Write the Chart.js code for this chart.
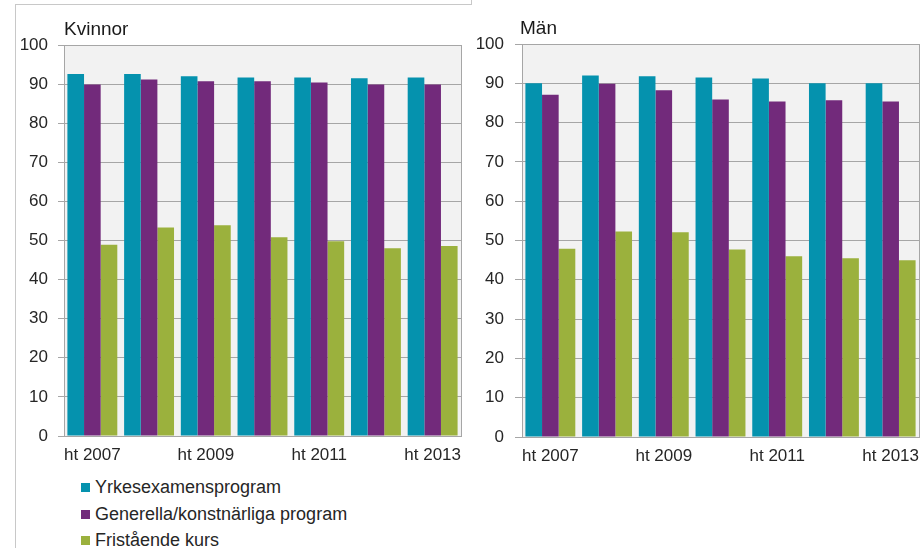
<!DOCTYPE html>
<html lang="sv">
<head>
<meta charset="utf-8">
<script src="https://cdn.jsdelivr.net/npm/chart.js@4.4.1/dist/chart.umd.min.js"></script>
<style>
    body { margin: 0; background: #fff; font-family: "Liberation Sans", Arial, sans-serif; color: #262626; }
    #wrap { position: relative; width: 924px; height: 548px; overflow: hidden; }
    canvas { position: absolute; top: 0; }
    .ram { position: absolute; background: #c8c8c8; }
    .rubrik { position: absolute; font-size: 19px; color: #1a1a1a; }
    #legend { position: absolute; left: 81px; top: 476px; font-size: 18px; color: #262626; }
    #legend div { height: 26.5px; line-height: 22px; white-space: nowrap; }
    #legend span { display: inline-block; width: 9px; height: 9px; margin-right: 5px; vertical-align: 1px; }
</style>
</head>
<body>
<div id="wrap">
    <div class="ram" style="left:15px; top:4px; width:457px; height:1px;"></div>
    <div class="ram" style="left:471px; top:0; width:1px; height:5px;"></div>
    <div class="ram" style="left:15px; top:4px; width:1px; height:544px;"></div>
    <canvas id="chart-kvinnor" width="470" height="470" style="left:0"></canvas>
    <canvas id="chart-man" width="454" height="470" style="left:470px"></canvas>
    <div class="rubrik" style="left:64px; top:18px;">Kvinnor</div>
    <div class="rubrik" style="left:520px; top:17px;">Män</div>
    <div id="legend"></div>
</div>
<script>
// ========== DATA ==========
const kategorier = ['ht 2007', 'ht 2008', 'ht 2009', 'ht 2010', 'ht 2011', 'ht 2012', 'ht 2013'];
const serieNamn = ['Yrkesexamensprogram', 'Generella/konstnärliga program', 'Fristående kurs'];
const serieFarger = ['#0592ae', '#722a7b', '#9bb13d'];

const kvinnorYrkes = [92.6, 92.6, 92.0, 91.7, 91.7, 91.5, 91.7];
const kvinnorGenerella = [89.9, 91.2, 90.7, 90.7, 90.4, 89.9, 89.9];
const kvinnorFristaende = [48.9, 53.3, 53.9, 50.8, 49.8, 48.0, 48.6];

const manYrkes = [90.0, 92.0, 91.8, 91.5, 91.2, 90.0, 90.0];
const manGenerella = [87.1, 89.9, 88.2, 85.9, 85.4, 85.7, 85.4];
const manFristaende = [47.9, 52.3, 52.1, 47.7, 46.0, 45.5, 45.0];

const yMin = 0, yMax = 100, yStep = 10;

// ========== PLOTYTA (bakgrund + ram) ==========
const plotYta = {
    id: 'plotYta',
    beforeDraw(chart) {
        const { ctx, chartArea: a } = chart;
        ctx.save();
        ctx.fillStyle = '#f2f2f2';
        ctx.fillRect(a.left, a.top, a.right - a.left, a.bottom - a.top);
        ctx.restore();
    },
    afterDraw(chart) {
        const { ctx, chartArea: a } = chart;
        ctx.save();
        ctx.strokeStyle = '#a6a6a6';
        ctx.lineWidth = 1;
        ctx.strokeRect(Math.round(a.left) + 0.5, Math.round(a.top) + 0.5, a.right - a.left, a.bottom - a.top);
        ctx.restore();
    }
};

// ========== DIAGRAM ==========
function ritaDiagram(id, serier, yBredd, xHojd, padding, tickLangd, tickAvstand) {
    const ctx = document.getElementById(id).getContext('2d');
    return new Chart(ctx, {
        type: 'bar',
        data: {
            labels: kategorier,
            datasets: serier.map((d, i) => ({
                label: serieNamn[i],
                data: d,
                backgroundColor: serieFarger[i],
                borderWidth: 0,
                categoryPercentage: 0.88,
                barPercentage: 1.0
            }))
        },
        options: {
            responsive: false,
            animation: false,
            layout: { padding },
            plugins: { legend: { display: false }, tooltip: { enabled: false } },
            scales: {
                x: {
                    grid: { display: false },
                    border: { display: true, color: '#a6a6a6' },
                    ticks: {
                        autoSkip: false, maxRotation: 0, padding: 1,
                        color: '#262626',
                        font: { family: 'Liberation Sans', size: 17 },
                        callback: function (val, i) { return i % 2 === 0 ? this.getLabelForValue(val) : ''; }
                    },
                    afterFit: s => { s.height = xHojd; }
                },
                y: {
                    min: yMin, max: yMax,
                    grid: { color: '#a6a6a6', tickLength: tickLangd },
                    border: { display: true, color: '#a6a6a6' },
                    ticks: {
                        stepSize: yStep, padding: tickAvstand,
                        color: '#262626',
                        font: { family: 'Liberation Sans', size: 17 }
                    },
                    afterFit: s => { s.width = yBredd; }
                }
            }
        },
        plugins: [plotYta]
    });
}

ritaDiagram('chart-kvinnor', [kvinnorYrkes, kvinnorGenerella, kvinnorFristaende], 64, 34,
    { top: 45, right: 9, left: 0, bottom: 0 }, 6, 10);
ritaDiagram('chart-man', [manYrkes, manGenerella, manFristaende], 52, 33,
    { top: 44, right: 5, left: 0, bottom: 0 }, 7, 11);

// ========== LEGEND ==========
document.getElementById('legend').innerHTML = serieNamn
    .map((n, i) => `<div><span style="background:${serieFarger[i]}"></span>${n}</div>`)
    .join('');
</script>
</body>
</html>
